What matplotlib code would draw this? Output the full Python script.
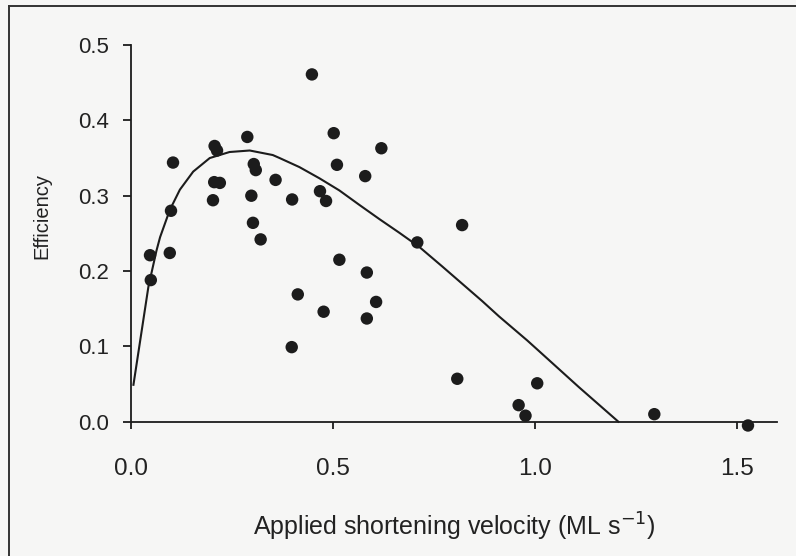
import numpy as np
import matplotlib.pyplot as plt
from matplotlib.lines import Line2D

plt.rcParams['font.family'] = ['Liberation Sans', 'DejaVu Sans']

# measured efficiency vs applied shortening velocity
velocity = [0.448, 0.502, 0.620, 0.288, 0.207, 0.213, 0.104, 0.304, 0.309,
            0.510, 0.580, 0.358, 0.206, 0.220, 0.298, 0.399, 0.468, 0.483,
            0.203, 0.099, 0.302, 0.321, 0.047, 0.096, 0.516, 0.584, 0.820,
            0.709, 0.049, 0.413, 0.477, 0.607, 0.584, 0.398, 0.808, 1.006,
            0.960, 0.977, 1.296, 1.528]
efficiency = [0.461, 0.383, 0.363, 0.378, 0.366, 0.360, 0.344, 0.342, 0.334,
              0.341, 0.326, 0.321, 0.318, 0.317, 0.300, 0.295, 0.306, 0.293,
              0.294, 0.280, 0.264, 0.242, 0.221, 0.224, 0.215, 0.198, 0.261,
              0.238, 0.188, 0.169, 0.146, 0.159, 0.137, 0.099, 0.057, 0.051,
              0.022, 0.008, 0.010, -0.005]

# fitted curve
fit_v = [0.006, 0.043, 0.063, 0.072, 0.096, 0.121, 0.154, 0.195, 0.244,
         0.294, 0.351, 0.368, 0.417, 0.467, 0.516, 0.565, 0.615, 0.664,
         0.714, 0.771, 0.870, 0.911, 0.981, 1.010, 1.109, 1.207]
fit_eff = [0.049, 0.179, 0.227, 0.245, 0.281, 0.308, 0.332, 0.350, 0.358,
           0.360, 0.354, 0.350, 0.338, 0.323, 0.307, 0.288, 0.269, 0.251,
           0.232, 0.206, 0.160, 0.140, 0.108, 0.094, 0.046, 0.0]

xticks = [0.0, 0.5, 1.0, 1.5]
yticks = [0.0, 0.1, 0.2, 0.3, 0.4, 0.5]

bg = '#f6f6f5'
ink = '#1c1c1c'
txt = '#222222'

fig = plt.figure(figsize=(7.96, 5.56), dpi=100, facecolor=bg)
ax = fig.add_axes([0.1646, 0.2212, 0.8116, 0.6978], facecolor=bg)

ax.plot(fit_v, fit_eff, color=ink, lw=1.5, zorder=2, solid_joinstyle='round')
ax.scatter(velocity, efficiency, s=80, color=ink, edgecolors='none', zorder=3, clip_on=False)

ax.set_xlim(0, 1.6)
ax.set_ylim(-0.015, 0.5)
ax.spines['top'].set_visible(False)
ax.spines['right'].set_visible(False)
ax.spines['bottom'].set_position(('data', 0))
ax.spines['left'].set_bounds(0, 0.5)
for s in ('left', 'bottom'):
    ax.spines[s].set_color(ink)
    ax.spines[s].set_linewidth(1.3)

ax.set_xticks(xticks)
ax.set_xticklabels([f'{t:.1f}' for t in xticks])
ax.set_yticks(yticks)
ax.set_yticklabels([f'{t:.1f}' for t in yticks])
ax.tick_params(axis='x', direction='out', length=5, width=1.3, color=ink,
               labelsize=17.5, pad=21, labelcolor=txt)
ax.tick_params(axis='y', direction='out', length=6, width=1.3, color=ink,
               labelsize=16, pad=9.5, labelcolor=txt)

ax.set_xlabel('Applied shortening velocity (ML s$^{-1}$)', fontsize=18, color=txt)
ax.xaxis.label.set_va('center')
ax.xaxis.set_label_coords(0.5, -0.242)
ax.set_ylabel('Efficiency', fontsize=14.5, color=txt)
ax.yaxis.label.set_va('center')
ax.yaxis.set_label_coords(-0.138, 0.559)

# frame edges of the page
fig.add_artist(Line2D([0.0113, 1.0], [0.9897, 0.9897], transform=fig.transFigure,
                      color='#333333', lw=1.4))
fig.add_artist(Line2D([0.0113, 0.0113], [0.0, 0.9897], transform=fig.transFigure,
                      color='#333333', lw=1.4))

fig.savefig('out.png', dpi=100, facecolor=bg)
